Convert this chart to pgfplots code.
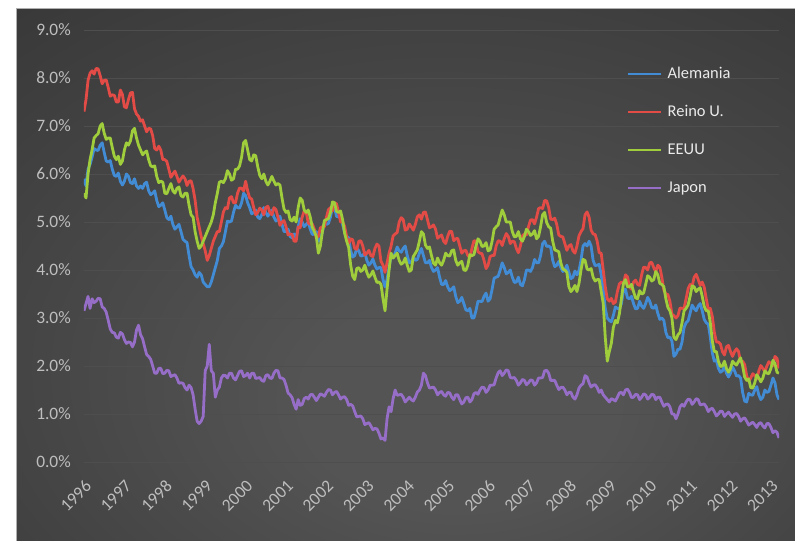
\documentclass[border=0pt]{standalone}
\usepackage{fontspec}
\setmainfont{Carlito}
\usepackage{pgfplots}
\usepackage{pgfplotstable}
\pgfplotsset{compat=1.18}
\definecolor{cde}{RGB}{66,140,214}
\definecolor{cuk}{RGB}{226,75,70}
\definecolor{cus}{RGB}{160,205,60}
\definecolor{cjp}{RGB}{150,110,200}
\definecolor{tickc}{RGB}{190,190,190}
\definecolor{legc}{RGB}{235,235,235}
\definecolor{gridc}{RGB}{78,78,78}
\definecolor{bgc}{RGB}{84,84,84}
\definecolor{bgm}{RGB}{56,56,56}
\definecolor{bgo}{RGB}{34,34,34}
\pgfdeclareradialshading{bgshade}{\pgfpoint{4bp}{-14bp}}{color(0bp)=(bgc); color(10bp)=(bgc); color(42bp)=(bgm); color(72bp)=(bgo)}

\pgfplotstableread{
year de uk us jp
1996.00 5.90 7.30 5.60 3.15
1996.05 5.75 7.55 5.50 3.30
1996.10 6.10 7.95 6.00 3.45
1996.15 6.20 8.10 6.30 3.20
1996.20 6.35 8.15 6.50 3.40
1996.25 6.53 8.08 6.75 3.32
1996.30 6.50 8.20 6.80 3.35
1996.35 6.49 8.19 6.84 3.41
1996.40 6.60 8.05 7.00 3.40
1996.45 6.65 7.88 7.05 3.23
1996.50 6.45 7.95 6.85 3.20
1996.55 6.27 7.96 6.72 3.12
1996.60 6.25 7.80 6.75 2.95
1996.65 6.28 7.62 6.75 2.77
1996.70 6.10 7.65 6.55 2.70
1996.75 5.97 7.64 6.37 2.69
1996.80 5.95 7.50 6.30 2.60
1996.85 6.02 7.50 6.37 2.58
1996.90 5.85 7.75 6.20 2.70
1996.95 5.77 7.66 6.27 2.67
1997.00 5.85 7.40 6.50 2.55
1997.05 6.00 7.38 6.65 2.47
1997.10 5.95 7.55 6.60 2.50
1997.15 5.82 7.69 6.69 2.49
1997.20 5.80 7.70 6.90 2.40
1997.25 5.90 7.36 6.95 2.50
1997.30 5.75 7.25 6.75 2.75
1997.35 5.70 7.20 6.60 2.85
1997.40 5.75 7.10 6.50 2.65
1997.45 5.70 7.13 6.40 2.57
1997.50 5.80 7.00 6.45 2.40
1997.55 5.83 6.88 6.48 2.24
1997.60 5.65 6.95 6.30 2.20
1997.65 5.57 6.94 6.17 2.14
1997.70 5.60 6.80 6.15 2.00
1997.75 5.65 6.53 6.17 1.85
1997.80 5.45 6.50 5.95 1.85
1997.85 5.32 6.58 5.82 1.95
1997.90 5.35 6.50 5.85 1.95
1997.95 5.40 6.30 5.83 1.84
1998.00 5.25 6.30 5.60 1.85
1998.05 5.09 6.26 5.59 1.91
1998.10 5.05 6.10 5.70 1.90
1998.15 5.12 5.93 5.80 1.78
1998.20 4.95 6.00 5.65 1.80
1998.25 4.85 6.06 5.60 1.82
1998.30 4.90 5.95 5.70 1.75
1998.35 4.95 5.83 5.73 1.64
1998.40 4.80 5.90 5.55 1.65
1998.45 4.64 5.96 5.52 1.64
1998.50 4.60 5.90 5.60 1.55
1998.55 4.57 5.76 5.60 1.50
1998.60 4.30 5.85 5.35 1.60
1998.65 4.07 5.86 5.15 1.55
1998.70 4.00 5.70 5.10 1.40
1998.75 3.90 5.45 4.80 1.10
1998.80 3.85 5.10 4.60 0.85
1998.85 3.95 4.90 4.45 0.80
1998.90 3.90 4.70 4.50 0.85
1998.95 3.75 4.55 4.60 0.95
1999.00 3.70 4.40 4.70 1.90
1999.05 3.65 4.20 4.80 2.00
1999.10 3.65 4.30 4.90 2.45
1999.15 3.75 4.45 5.00 1.90
1999.20 3.90 4.60 5.15 1.85
1999.25 4.05 4.70 5.40 1.35
1999.30 4.20 4.80 5.60 1.50
1999.35 4.45 4.80 5.83 1.56
1999.40 4.50 5.00 5.85 1.75
1999.45 4.59 5.21 5.82 1.81
1999.50 4.80 5.30 5.90 1.80
1999.55 5.02 5.28 6.07 1.75
1999.60 5.00 5.50 6.00 1.85
1999.65 5.02 5.53 5.87 1.85
1999.70 5.20 5.40 5.90 1.75
1999.75 5.35 5.40 6.10 1.71
1999.80 5.30 5.60 6.10 1.80
1999.85 5.29 5.71 6.17 1.89
1999.90 5.40 5.70 6.35 1.90
1999.95 5.60 5.65 6.65 1.78
2000.00 5.55 5.85 6.70 1.80
2000.05 5.40 5.65 6.50 1.85
2000.10 5.30 5.50 6.30 1.75
2000.15 5.17 5.48 6.27 1.85
2000.20 5.20 5.30 6.40 1.85
2000.25 5.25 5.15 6.38 1.74
2000.30 5.10 5.20 6.15 1.75
2000.35 5.07 5.29 5.97 1.76
2000.40 5.15 5.25 5.90 1.70
2000.45 5.30 5.15 6.00 1.68
2000.50 5.20 5.30 5.85 1.80
2000.55 5.12 5.33 5.77 1.82
2000.60 5.20 5.20 5.85 1.75
2000.65 5.25 5.15 5.95 1.74
2000.70 5.10 5.30 5.85 1.85
2000.75 5.02 5.26 5.77 1.91
2000.80 5.05 5.10 5.80 1.90
2000.85 5.12 4.93 5.77 1.75
2000.90 4.95 5.00 5.50 1.75
2000.95 4.80 5.03 5.27 1.72
2001.00 4.80 4.90 5.20 1.60
2001.05 4.85 4.73 5.23 1.44
2001.10 4.70 4.75 5.05 1.40
2001.15 4.67 4.74 5.02 1.34
2001.20 4.75 4.60 5.10 1.20
2001.25 4.65 4.60 5.00 1.10
2001.30 4.90 4.90 5.30 1.30
2001.35 5.07 4.88 5.50 1.18
2001.40 5.00 5.10 5.45 1.20
2001.45 4.90 5.23 5.25 1.32
2001.50 4.95 5.20 5.20 1.35
2001.55 5.00 4.98 5.25 1.31
2001.60 4.85 4.95 5.10 1.40
2001.65 4.74 4.96 4.89 1.41
2001.70 4.75 4.85 4.80 1.35
2001.75 4.80 4.66 4.70 1.28
2001.80 4.60 4.70 4.35 1.35
2001.85 4.62 4.88 4.50 1.42
2001.90 4.80 4.90 4.80 1.40
2001.95 4.98 4.90 5.03 1.37
2002.00 4.95 5.10 5.05 1.45
2002.05 4.97 5.26 5.07 1.51
2002.10 5.10 5.30 5.20 1.50
2002.15 5.32 5.23 5.42 1.40
2002.20 5.30 5.40 5.40 1.45
2002.25 5.12 5.38 5.22 1.47
2002.30 5.10 5.20 5.20 1.40
2002.35 5.13 5.00 5.23 1.31
2002.40 4.95 5.00 5.05 1.35
2002.45 4.77 4.91 4.77 1.36
2002.50 4.70 4.70 4.60 1.30
2002.55 4.67 4.55 4.47 1.18
2002.60 4.40 4.65 4.10 1.20
2002.65 4.27 4.63 3.87 1.17
2002.70 4.30 4.45 3.80 1.05
2002.75 4.45 4.43 4.03 0.94
2002.80 4.40 4.60 4.05 0.95
2002.85 4.29 4.61 3.97 0.96
2002.90 4.30 4.50 4.00 0.90
2002.95 4.37 4.31 4.10 0.78
2003.00 4.20 4.35 3.95 0.80
2003.05 4.10 4.41 3.85 0.82
2003.10 4.15 4.30 3.90 0.75
2003.15 4.23 4.28 3.98 0.67
2003.20 4.10 4.45 3.85 0.70
2003.25 4.02 4.54 3.74 0.69
2003.30 4.05 4.50 3.75 0.60
2003.35 4.05 4.18 3.70 0.48
2003.40 3.80 4.10 3.40 0.50
2003.45 3.65 3.95 3.15 0.45
2003.50 3.80 4.15 3.60 0.90
2003.55 4.05 4.35 4.00 1.15
2003.60 4.30 4.50 4.35 1.05
2003.65 4.25 4.71 4.25 1.32
2003.70 4.35 4.75 4.30 1.50
2003.75 4.48 4.78 4.35 1.39
2003.80 4.40 5.00 4.20 1.40
2003.85 4.37 5.09 4.12 1.41
2003.90 4.45 5.05 4.15 1.35
2003.95 4.50 4.83 4.25 1.25
2004.00 4.30 4.85 4.10 1.30
2004.05 4.15 4.96 3.97 1.35
2004.10 4.15 4.90 4.00 1.30
2004.15 4.28 4.83 4.28 1.27
2004.20 4.20 4.95 4.35 1.35
2004.25 4.22 5.11 4.42 1.46
2004.30 4.35 5.15 4.60 1.50
2004.35 4.45 5.06 4.80 1.60
2004.40 4.30 5.20 4.75 1.85
2004.45 4.15 5.21 4.52 1.80
2004.50 4.15 5.05 4.45 1.65
2004.55 4.20 4.88 4.48 1.54
2004.60 4.05 4.90 4.30 1.55
2004.65 3.97 4.94 4.14 1.56
2004.70 4.00 4.85 4.10 1.50
2004.75 4.05 4.66 4.25 1.40
2004.80 3.85 4.70 4.15 1.45
2004.85 3.70 4.73 4.10 1.47
2004.90 3.70 4.60 4.20 1.40
2004.95 3.78 4.55 4.35 1.37
2005.00 3.65 4.70 4.30 1.45
2005.05 3.57 4.81 4.29 1.44
2005.10 3.60 4.80 4.40 1.35
2005.15 3.65 4.61 4.42 1.30
2005.20 3.45 4.65 4.20 1.40
2005.25 3.32 4.66 4.10 1.40
2005.30 3.35 4.50 4.15 1.30
2005.35 3.43 4.35 4.18 1.21
2005.40 3.30 4.40 4.00 1.25
2005.45 3.17 4.41 3.99 1.34
2005.50 3.15 4.30 4.10 1.35
2005.55 3.20 4.26 4.32 1.25
2005.60 3.00 4.45 4.30 1.30
2005.65 3.00 4.61 4.32 1.42
2005.70 3.15 4.60 4.50 1.45
2005.75 3.35 4.38 4.65 1.41
2005.80 3.35 4.35 4.60 1.50
2005.85 3.34 4.34 4.49 1.56
2005.90 3.45 4.20 4.50 1.55
2005.95 3.52 4.03 4.57 1.45
2006.00 3.35 4.10 4.40 1.50
2006.05 3.40 4.28 4.42 1.60
2006.10 3.60 4.30 4.60 1.60
2006.15 3.83 4.30 4.85 1.61
2006.20 3.85 4.50 4.90 1.75
2006.25 3.87 4.61 4.94 1.86
2006.30 4.00 4.60 5.10 1.90
2006.35 4.15 4.51 5.25 1.80
2006.40 4.05 4.65 5.15 1.85
2006.45 3.92 4.76 5.00 1.92
2006.50 3.95 4.70 5.00 1.90
2006.55 4.00 4.55 5.00 1.76
2006.60 3.85 4.60 4.80 1.75
2006.65 3.74 4.59 4.69 1.76
2006.70 3.75 4.45 4.70 1.70
2006.75 3.85 4.36 4.80 1.60
2006.80 3.70 4.50 4.65 1.65
2006.85 3.67 4.71 4.60 1.72
2006.90 3.80 4.75 4.70 1.70
2006.95 4.00 4.73 4.85 1.61
2007.00 4.00 4.90 4.80 1.65
2007.05 3.97 5.04 4.72 1.71
2007.10 4.05 5.05 4.75 1.70
2007.15 4.22 4.96 4.82 1.60
2007.20 4.15 5.10 4.65 1.65
2007.25 4.15 5.28 4.70 1.75
2007.30 4.30 5.30 4.90 1.75
2007.35 4.55 5.28 5.15 1.76
2007.40 4.60 5.45 5.20 1.90
2007.45 4.49 5.44 4.99 1.91
2007.50 4.50 5.30 4.90 1.85
2007.55 4.47 5.06 4.87 1.70
2007.60 4.20 5.05 4.60 1.70
2007.65 4.07 5.08 4.42 1.70
2007.70 4.10 4.95 4.40 1.60
2007.75 4.18 4.73 4.38 1.51
2007.80 4.05 4.70 4.15 1.55
2007.85 3.97 4.69 4.02 1.56
2007.90 4.00 4.55 4.00 1.50
2007.95 4.10 4.41 3.95 1.40
2008.00 3.95 4.50 3.65 1.45
2008.05 3.82 4.53 3.55 1.45
2008.10 3.85 4.40 3.60 1.35
2008.15 3.98 4.35 3.68 1.31
2008.20 3.90 4.50 3.55 1.40
2008.25 3.99 4.71 3.72 1.54
2008.30 4.20 4.80 4.00 1.60
2008.35 4.50 4.86 4.22 1.63
2008.40 4.55 5.15 4.20 1.80
2008.45 4.50 5.21 4.02 1.77
2008.50 4.60 5.10 4.00 1.65
2008.55 4.50 4.83 4.03 1.56
2008.60 4.20 4.75 3.85 1.60
2008.65 4.09 4.74 3.77 1.61
2008.70 4.10 4.60 3.80 1.55
2008.75 4.12 4.36 3.80 1.45
2008.80 3.90 4.35 3.55 1.50
2008.85 3.60 4.00 3.30 1.40
2008.90 3.20 3.65 2.60 1.35
2008.95 3.00 3.40 2.10 1.30
2009.00 2.95 3.35 2.30 1.25
2009.05 2.92 3.41 2.47 1.32
2009.10 3.05 3.30 2.80 1.30
2009.15 3.23 3.33 2.95 1.27
2009.20 3.20 3.55 2.90 1.35
2009.25 3.19 3.71 3.09 1.44
2009.30 3.30 3.75 3.40 1.45
2009.35 3.57 3.71 3.72 1.40
2009.40 3.60 3.90 3.80 1.50
2009.45 3.42 3.86 3.65 1.52
2009.50 3.40 3.65 3.65 1.45
2009.55 3.45 3.60 3.70 1.34
2009.60 3.30 3.75 3.55 1.35
2009.65 3.19 3.79 3.42 1.41
2009.70 3.20 3.70 3.40 1.40
2009.75 3.35 3.68 3.57 1.30
2009.80 3.25 3.90 3.50 1.35
2009.85 3.20 4.06 3.52 1.42
2009.90 3.30 4.05 3.70 1.40
2009.95 3.43 4.00 3.88 1.31
2010.00 3.35 4.15 3.85 1.35
2010.05 3.22 4.16 3.77 1.41
2010.10 3.20 4.05 3.80 1.40
2010.15 3.27 3.96 3.97 1.30
2010.20 3.10 4.10 3.90 1.35
2010.25 2.97 4.06 3.72 1.35
2010.30 3.00 3.85 3.70 1.25
2010.35 2.95 3.58 3.65 1.16
2010.40 2.70 3.50 3.40 1.20
2010.45 2.59 3.49 3.22 1.21
2010.50 2.60 3.35 3.15 1.15
2010.55 2.52 3.08 3.00 1.00
2010.60 2.20 3.05 2.60 1.00
2010.65 2.25 3.00 2.55 0.90
2010.70 2.35 3.05 2.65 1.00
2010.75 2.35 3.21 2.70 1.15
2010.80 2.50 3.20 2.90 1.20
2010.85 2.80 3.20 3.15 1.16
2010.90 2.90 3.40 3.20 1.25
2010.95 2.94 3.61 3.27 1.31
2011.00 3.10 3.70 3.45 1.30
2011.05 3.27 3.66 3.67 1.20
2011.10 3.20 3.85 3.65 1.25
2011.15 3.15 3.91 3.55 1.32
2011.20 3.25 3.80 3.60 1.30
2011.25 3.30 3.68 3.63 1.19
2011.30 3.15 3.75 3.45 1.20
2011.35 2.97 3.64 3.24 1.21
2011.40 2.90 3.40 3.15 1.15
2011.45 2.87 3.18 3.15 1.05
2011.50 2.60 3.20 2.90 1.10
2011.55 2.27 3.03 2.52 1.12
2011.60 2.10 2.70 2.30 1.05
2011.65 2.13 2.50 2.30 0.96
2011.70 1.95 2.50 2.10 1.00
2011.75 1.87 2.46 1.99 1.06
2011.80 1.90 2.30 2.00 1.05
2011.85 2.00 2.23 2.10 0.95
2011.90 1.85 2.40 1.95 1.00
2011.95 1.77 2.43 1.87 1.04
2012.00 1.85 2.30 1.95 0.98
2012.05 1.98 2.20 2.10 0.93
2012.10 1.90 2.30 2.05 1.00
2012.15 1.79 2.36 2.02 1.01
2012.20 1.80 2.30 2.10 0.95
2012.25 1.75 2.08 2.17 0.85
2012.30 1.45 2.10 2.00 0.90
2012.35 1.27 2.03 1.77 0.92
2012.40 1.25 1.80 1.70 0.85
2012.45 1.43 1.68 1.73 0.77
2012.50 1.40 1.75 1.55 0.80
2012.55 1.39 1.84 1.54 0.83
2012.60 1.50 1.80 1.65 0.78
2012.65 1.57 1.73 1.82 0.72
2012.70 1.40 1.90 1.75 0.80
2012.75 1.30 2.01 1.67 0.82
2012.80 1.35 1.95 1.75 0.75
2012.85 1.50 1.88 1.90 0.71
2012.90 1.45 2.00 1.85 0.80
2012.95 1.47 2.09 1.84 0.80
2013.00 1.60 2.05 1.95 0.72
2013.05 1.75 2.01 2.12 0.61
2013.10 1.65 2.20 2.05 0.65
2013.15 1.40 2.16 1.87 0.62
2013.20 1.30 1.95 1.85 0.50
}\yields

\begin{document}
\begin{tikzpicture}
\useasboundingbox (-84bp,-79bp) rectangle (711bp,462bp);
\fill[white] (-84bp,-79bp) rectangle (711bp,462bp);
\shade[shading=bgshade] (-67bp,-79bp) rectangle (711bp,453bp);
\draw[color={rgb,255:red,175;green,175;blue,175}, line width=1bp] (-67bp,-79bp) -- (-67bp,453bp) -- (711bp,453bp);
\begin{axis}[
  at={(0bp,0bp)}, anchor=south west,
  scale only axis, width=695bp, height=432bp,
  xmin=1996, xmax=2013.2, ymin=0, ymax=9,
  axis line style={draw=none}, major tick length=0pt,
  xtick={1996,1997,1998,1999,2000,2001,2002,2003,2004,2005,2006,2007,2008,2009,2010,2011,2012,2013},
  xticklabels={1996,1997,1998,1999,2000,2001,2002,2003,2004,2005,2006,2007,2008,2009,2010,2011,2012,2013},
  ytick={0,1,2,3,4,5,6,7,8,9},
  ymajorgrids, grid style={color=gridc, line width=0.9bp},
  /pgf/number format/assume math mode=true,
  yticklabel={\pgfmathprintnumber[fixed,fixed zerofill,precision=1]{\tick}\%},
  ticklabel style={font=\fontsize{17.5}{20}\selectfont, text=tickc},
  yticklabel style={anchor=east, inner sep=0pt, xshift=-13bp},
  xticklabel shift=17bp,
  xticklabel style={rotate=45, anchor=north east, inner sep=0pt},
  legend cell align=left,
  legend image code/.code={\draw[#1, line width=2.4bp] (0bp,0bp) -- (33bp,0bp);},
  legend style={draw=none, fill=none, at={(0.7814,0.9167)}, anchor=north west,
    inner sep=0pt, row sep=22bp, column sep=5bp,
    font=\fontsize{16.5}{19}\selectfont, text=legc,
    nodes={inner sep=0pt, text height=12bp, text depth=4bp}},
]
\addplot[cde, line width=2.8bp, line join=round] table[x=year, y=de]{\yields};
\addlegendentry{Alemania}
\addplot[cuk, line width=2.8bp, line join=round] table[x=year, y=uk]{\yields};
\addlegendentry{Reino U.}
\addplot[cus, line width=2.8bp, line join=round] table[x=year, y=us]{\yields};
\addlegendentry{EEUU}
\addplot[cjp, line width=2.8bp, line join=round] table[x=year, y=jp]{\yields};
\addlegendentry{Japon}
\end{axis}
\end{tikzpicture}
\end{document}
